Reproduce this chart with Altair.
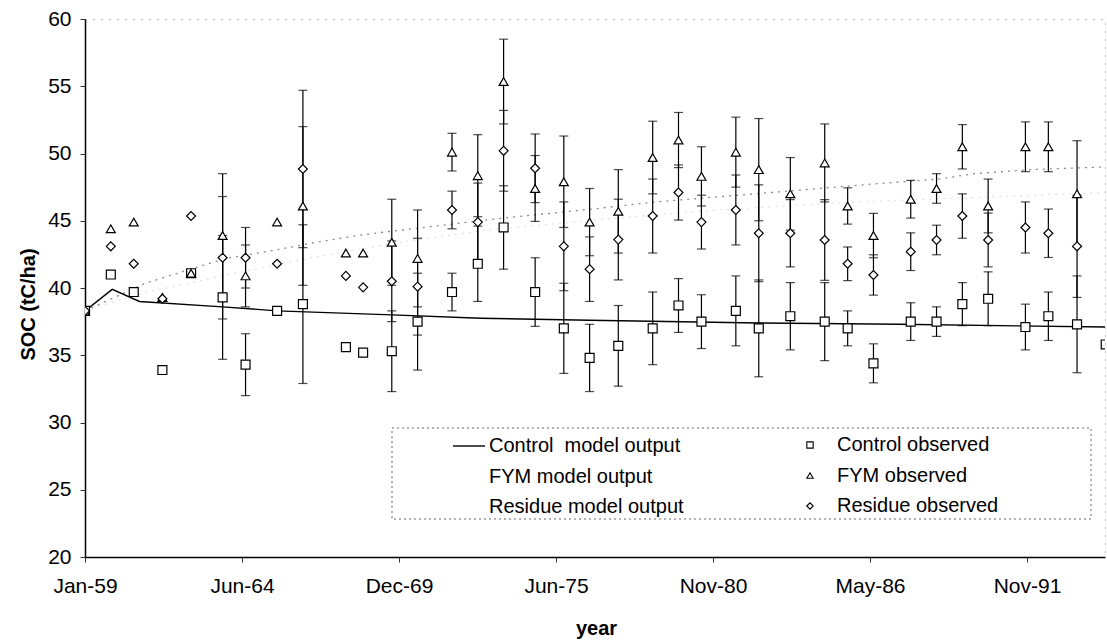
import altair as alt
import pandas as pd

# ---------------- data ----------------
years = [1959.0, 1959.9, 1960.7, 1961.7, 1962.7, 1963.8, 1964.6, 1965.7, 1966.6, 1968.1,
         1968.7, 1969.7, 1970.6, 1971.8, 1972.7, 1973.6, 1974.7, 1975.7, 1976.6, 1977.6,
         1978.8, 1979.7, 1980.5, 1981.7, 1982.5, 1983.6, 1984.8, 1985.6, 1986.5, 1987.8,
         1988.7, 1989.6, 1990.5, 1991.8, 1992.6, 1993.6, 1994.6]

control_obs = [38.3, 41.0, 39.7, 33.9, 41.1, 39.3, 34.3, 38.3, 38.8, 35.6,
               35.2, 35.3, 37.5, 39.7, 41.8, 44.5, 39.7, 37.0, 34.8, 35.7,
               37.0, 38.7, 37.5, 38.3, 37.0, 37.9, 37.5, 37.0, 34.4, 37.5,
               37.5, 38.8, 39.2, 37.1, 37.9, 37.3, 35.8]
control_err = [None, None, None, None, None, 4.6, 2.3, None, 5.9, None,
               None, 3.0, 3.6, 1.4, 2.8, 3.1, 2.55, 3.35, 2.5, 3.0,
               2.7, 2.0, 2.0, 2.6, 3.6, 2.5, 2.9, 1.3, 1.45, 1.4,
               1.1, 1.6, 2.0, 1.7, 1.8, 3.6, None]

fym_obs = [38.3, 44.4, 44.9, 39.3, 41.1, 43.9, 40.9, 44.9, 46.1, 42.6,
           42.6, 43.4, 42.2, 50.1, 48.35, 55.35, 47.4, 47.9, 44.9, 45.7,
           49.7, 51.0, 48.3, 50.1, 48.8, 47.0, 49.3, 46.1, 43.9, 46.6,
           47.4, 50.5, 46.1, 50.5, 50.5, 47.0, None]
fym_err = [None, None, None, None, None, 4.6, 2.3, None, 5.9, None,
           None, 3.2, 3.6, 1.4, 3.05, 3.15, 2.45, 3.4, 2.5, 3.1,
           2.7, 2.05, 2.2, 2.6, 3.8, 2.7, 2.9, 1.35, 1.65, 1.4,
           1.1, 1.65, 2.0, 1.85, 1.85, 3.95, None]

residue_obs = [38.3, 43.1, 41.8, 39.2, 45.35, 42.25, 42.25, 41.8, 48.85, 40.9,
               40.05, 40.5, 40.1, 45.8, 44.9, 50.2, 48.9, 43.1, 41.4, 43.6,
               45.35, 47.1, 44.9, 45.8, 44.07, 44.07, 43.57, 41.8, 40.97, 42.7,
               43.57, 45.35, 43.57, 44.5, 44.07, 43.1, None]
residue_err = [None, None, None, None, None, 4.55, 2.25, None, 5.85, None,
               None, 3.0, 3.6, 1.4, 2.9, 3.0, 2.55, 3.3, 2.4, 3.0,
               2.75, 2.05, 2.0, 2.6, 3.6, 2.5, 3.0, 1.25, 1.5, 1.4,
               1.1, 1.65, 2.0, 1.9, 1.8, 3.8, None]

control_model_years = [1959.0, 1959.95, 1960.9, 1963.8, 1965.7, 1969.7, 1972.8, 1976.6, 1982.5, 1987.4, 1994.6]
control_model = [38.3, 39.9, 39.0, 38.6, 38.3, 38.0, 37.75, 37.6, 37.4, 37.3, 37.1]

fym_model_years = [1959.0, 1961.1, 1963.9, 1965.6, 1966.8, 1968.5, 1969.6, 1973.6, 1976.6,
                   1978.9, 1983.5, 1986.3, 1988.8, 1990.0, 1992.0, 1994.6]
fym_model = [38.3, 40.35, 42.2, 42.8, 43.3, 43.9, 44.2, 45.2, 45.85,
             46.4, 47.2, 47.7, 48.1, 48.5, 48.8, 49.0]

residue_model_years = [1959.0, 1961.0, 1964.0, 1967.0, 1970.0, 1973.0, 1977.0, 1981.0, 1986.0, 1994.6]
residue_model = [38.3, 39.6, 41.0, 42.3, 43.4, 44.3, 45.1, 45.8, 46.4, 47.1]

tick_labels = ["Jan-59", "Jun-64", "Dec-69", "Jun-75", "Nov-80", "May-86", "Nov-91"]
model_names = ["Control\u00a0\u00a0model output", "FYM model output", "Residue model output"]
obs_names = ["Control observed", "FYM observed", "Residue observed"]

# ---------------- tables ----------------
def to_days(y):
    return (y - 1959.0) * 365.25

XMAX = 12994
TICK_STEP = 2000

rows = []
for name, vals, errs in zip(obs_names, [control_obs, fym_obs, residue_obs],
                            [control_err, fym_err, residue_err]):
    for yr, v, e in zip(years, vals, errs):
        if v is None:
            continue
        r = {"obs": name, "t": to_days(yr), "v": v}
        if e is not None:
            r["lo"] = v - e
            r["hi"] = v + e
        rows.append(r)
obs_df = pd.DataFrame(rows)
err_df = obs_df.dropna(subset=["lo"])

ctrl_line = pd.DataFrame({"model": model_names[0],
                          "t": [to_days(y) for y in control_model_years],
                          "v": control_model})
fym_line = pd.DataFrame({"model": model_names[1],
                         "t": [to_days(y) for y in fym_model_years],
                         "v": fym_model})
res_line = pd.DataFrame({"model": model_names[2],
                         "t": [to_days(y) for y in residue_model_years],
                         "v": residue_model})

# legend key for the observed symbols (pixel layout inside the plot frame)
legend_obs = pd.DataFrame({"obs": obs_names, "row": [0, 1, 2]})
LEG_SYM_X, LEG_TXT_X, LEG_Y0, LEG_DY = 725, 752, 426, 30.5
legend_obs["sx"] = LEG_SYM_X
legend_obs["tx"] = LEG_TXT_X
legend_obs["py"] = LEG_Y0 + legend_obs["row"] * LEG_DY

FONT = "Liberation Sans"
label_expr = "[" + ",".join("'%s'" % s for s in tick_labels) + "][round(datum.value/%d)]" % TICK_STEP

xscale = alt.Scale(domain=[0, XMAX], nice=False, zero=False)
yscale = alt.Scale(domain=[20, 60], nice=False, zero=False)
shape_scale = alt.Scale(domain=obs_names, range=["square", "triangle-up", "diamond"])

xenc = alt.X("t:Q", scale=xscale,
             axis=alt.Axis(values=list(range(0, 12001, TICK_STEP)), labelExpr=label_expr,
                           labelFlush=False, labelOverlap=False,
                           title="year", titleX=511, titleY=71, titleBaseline="middle",
                           titleAlign="center", labelPadding=13, grid=False))
yenc = alt.Y("v:Q", scale=yscale,
             axis=alt.Axis(values=list(range(20, 61, 5)), title="SOC (tC/ha)",
                           labelFlush=False,
                           titleX=-57, titleY=285, titleAngle=-90, titleBaseline="middle",
                           titleAlign="center", labelPadding=9, grid=False))

base_x = alt.X("t:Q", scale=xscale)
base_y = alt.Y("v:Q", scale=yscale)

# legend frame
legend_box = alt.Chart(pd.DataFrame({"k": [0]})).mark_rect(
    fill="white", stroke="#666666", strokeDash=[2, 3], strokeWidth=1
).encode(x=alt.value(307), x2=alt.value(1006), y=alt.value(409), y2=alt.value(500))

fym_res_lines = alt.Chart(pd.concat([fym_line, res_line])).mark_line(
    strokeDash=[2, 5], strokeWidth=1.3, clip=True
).encode(
    x=xenc, y=yenc, detail="model:N",
    color=alt.Color("model:N", scale=alt.Scale(domain=model_names[1:], range=["#8a8a8a", "#e2e2e2"]),
                    legend=None)
)

ctrl_lines = alt.Chart(ctrl_line).mark_line(strokeWidth=1.4, clip=True).encode(
    x=base_x, y=base_y,
    stroke=alt.Stroke("model:N",
                      scale=alt.Scale(domain=model_names, range=["black", "white", "white"]),
                      legend=alt.Legend(orient="none", legendX=367, legendY=410, title=None,
                                        symbolType="stroke", symbolSize=1024, symbolStrokeWidth=1.4,
                                        labelFont=FONT, labelFontSize=20, labelColor="black",
                                        labelLimit=400, labelOffset=3, rowPadding=3.5, padding=0))
)

rules = alt.Chart(err_df).mark_rule(color="black", strokeWidth=1.2, clip=True).encode(
    x=base_x, y=alt.Y("lo:Q", scale=yscale), y2="hi:Q")
caps_lo = alt.Chart(err_df).mark_tick(orient="horizontal", size=9, thickness=1.2, color="black", clip=True).encode(
    x=base_x, y=alt.Y("lo:Q", scale=yscale))
caps_hi = alt.Chart(err_df).mark_tick(orient="horizontal", size=9, thickness=1.2, color="black", clip=True).encode(
    x=base_x, y=alt.Y("hi:Q", scale=yscale))

points = alt.Chart(obs_df).mark_point(filled=False, color="black", stroke="black", fill="white",
                                      fillOpacity=1, strokeWidth=1.2, size=80, opacity=1,
                                      clip=True).encode(
    x=base_x, y=base_y,
    shape=alt.Shape("obs:N", scale=shape_scale, legend=None)
)

legend_syms = alt.Chart(legend_obs).mark_point(filled=False, color="black", stroke="black",
                                               fill="white", fillOpacity=1, strokeWidth=1.1,
                                               size=40, opacity=1).encode(
    x=alt.X("sx:Q", scale=None), y=alt.Y("py:Q", scale=None),
    shape=alt.Shape("obs:N", scale=shape_scale, legend=None)
)
legend_txt = alt.Chart(legend_obs).mark_text(
    align="left", baseline="middle", font=FONT, fontSize=20, color="black"
).encode(x=alt.X("tx:Q", scale=None), y=alt.Y("py:Q", scale=None), text="obs:N")

chart = alt.layer(
    legend_box, fym_res_lines, ctrl_lines, rules, caps_lo, caps_hi, points, legend_syms, legend_txt
).resolve_scale(color="independent", stroke="independent").properties(
    width=1020, height=538,
    autosize="none",
    padding={"left": 85, "top": 19, "right": 2, "bottom": 85},
    background="white",
).configure_view(
    stroke="#888888", strokeDash=[1, 7], strokeWidth=1
).configure_axis(
    labelFont=FONT, labelFontSize=21, labelColor="black",
    titleFont=FONT, titleFontSize=20, titleFontWeight="bold", titleColor="black",
    domainColor="black", domainWidth=1.5, tickColor="#333333", tickSize=5, tickWidth=1
)

chart.save("out.html", embed_options={"renderer": "svg", "actions": False})
